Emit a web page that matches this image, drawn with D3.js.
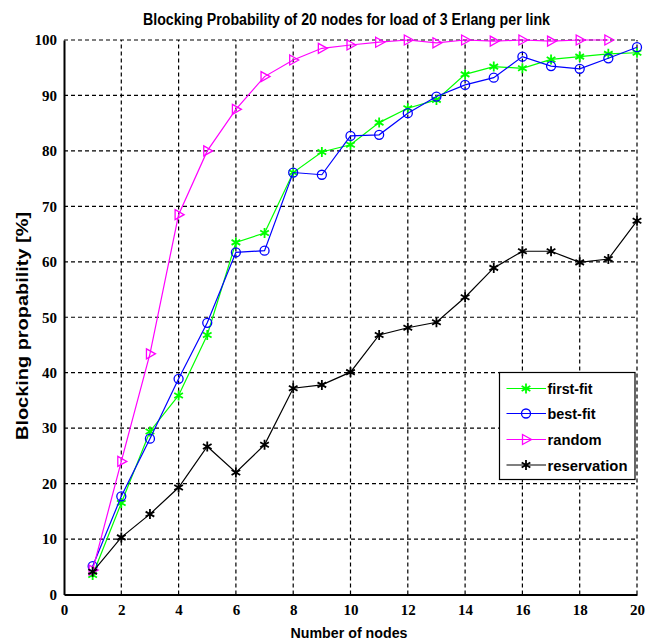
<!DOCTYPE html>
<html>
<head>
<meta charset="utf-8">
<script src="https://cdn.jsdelivr.net/npm/d3@7"></script>
<style>
  html, body { margin: 0; padding: 0; background: #fff; }
  svg { display: block; }
</style>
</head>
<body>
<script>
const nodes = [1,2,3,4,5,6,7,8,9,10,11,12,13,14,15,16,17,18,19,20];
const firstFit = [3.5,16.5,29.4,35.9,46.8,63.5,65.2,76.1,79.8,81.1,85.1,87.7,89.2,93.8,95.2,94.9,96.5,97.0,97.5,97.7];
const bestFit = [5.1,17.7,28.1,38.9,49.0,61.7,62.0,76.1,75.7,82.7,82.9,86.8,89.8,91.9,93.2,97.0,95.3,94.8,96.7,98.7];
const randomFit = [4.4,24.0,43.4,68.5,80.0,87.5,93.4,96.4,98.5,99.1,99.6,100,99.5,100,99.8,100,99.8,100,100];
const reservation = [4.1,10.3,14.5,19.3,26.7,22.0,27.0,37.2,37.8,40.1,46.8,48.1,49.1,53.6,58.9,61.9,61.9,59.9,60.5,67.4];
const xTicks = [0,2,4,6,8,10,12,14,16,18,20];
const yTicks = [0,10,20,30,40,50,60,70,80,90,100];
const seriesNames = ["first-fit","best-fit","random","reservation"];
const seriesColors = ["#00ff00","#0000ff","#ff00ff","#000000"];
const seriesMarkers = ["star","circle","triangle","star"];
const titleText = "Blocking Probability of 20 nodes for load of 3 Erlang per link";
const xLabelText = "Number of nodes";
const yLabelText = "Blocking propability [%]";

const W = 650, H = 640;
const svg = d3.select("body").append("svg").attr("width", W).attr("height", H);

const x = d3.scaleLinear().domain([0,20]).range([64,637]);
const y = d3.scaleLinear().domain([0,100]).range([594.5,40]);

const sans = "'Liberation Sans', Arial, sans-serif";
const serif = "'Liberation Serif', 'Times New Roman', serif";

// grid
const grid = svg.append("g");
grid.selectAll("line.gx").data(xTicks.filter(d => d > 0)).enter().append("line")
  .attr("x1", d => x(d)).attr("x2", d => x(d)).attr("y1", y(0)).attr("y2", y(100))
  .attr("stroke", "#000").attr("stroke-width", 1.2).attr("stroke-dasharray", "4,3");
grid.selectAll("line.gy").data(yTicks.filter(d => d > 0)).enter().append("line")
  .attr("x1", x(0)).attr("x2", x(20)).attr("y1", d => y(d)).attr("y2", d => y(d))
  .attr("stroke", "#000").attr("stroke-width", 1.2).attr("stroke-dasharray", "4,3");

// axes
const xAxis = svg.append("g").attr("transform", `translate(0,${y(0)})`)
  .call(d3.axisBottom(x).tickValues(xTicks).tickSize(0).tickPadding(9).tickFormat(d3.format("d")));
const yAxis = svg.append("g").attr("transform", `translate(${x(0)},0)`)
  .call(d3.axisLeft(y).tickValues(yTicks).tickSize(0).tickPadding(7).tickFormat(d3.format("d")));
[xAxis, yAxis].forEach(a => {
  a.select(".domain").attr("stroke", "#000").attr("stroke-width", 2);
  a.selectAll("text").attr("font-family", serif).attr("font-weight", "bold")
    .attr("font-size", 15).attr("fill", "#000");
});
xAxis.selectAll("text").attr("dy", "0.75em");

// markers
function drawMarker(g, type, cx, cy, color) {
  if (type === "circle") {
    g.append("circle").attr("cx", cx).attr("cy", cy).attr("r", 4.5)
      .attr("fill", "none").attr("stroke", color).attr("stroke-width", 1.3);
  } else if (type === "triangle") {
    const s = 5;
    g.append("path")
      .attr("d", `M${cx - s*0.7},${cy - s} L${cx + s*1.1},${cy} L${cx - s*0.7},${cy + s} Z`)
      .attr("fill", "none").attr("stroke", color).attr("stroke-width", 1.3);
  } else {
    const s = 5;
    const p = [];
    for (let k = 0; k < 3; k++) {
      const a = Math.PI / 2 + k * Math.PI / 3;
      p.push(`M${cx + s*Math.cos(a)},${cy - s*Math.sin(a)} L${cx - s*Math.cos(a)},${cy + s*Math.sin(a)}`);
    }
    g.append("path").attr("d", p.join(" ")).attr("stroke", color).attr("stroke-width", 1.8).attr("fill", "none");
  }
}

const allSeries = [firstFit, bestFit, randomFit, reservation];
const line = d3.line().x(d => x(d[0])).y(d => y(d[1]));
allSeries.forEach((vals, i) => {
  const pts = vals.map((v, j) => [nodes[j], v]);
  const g = svg.append("g");
  g.append("path").datum(pts).attr("d", line).attr("fill", "none")
    .attr("stroke", seriesColors[i]).attr("stroke-width", 1.2);
  pts.forEach(p => drawMarker(g, seriesMarkers[i], x(p[0]), y(p[1]), seriesColors[i]));
});

// helper to condense text
function condense(sel, factor) {
  sel.each(function() {
    const w = this.getComputedTextLength();
    d3.select(this).attr("textLength", w * factor).attr("lengthAdjust", "spacingAndGlyphs");
  });
}
function fitWidth(sel, width) {
  sel.attr("textLength", width).attr("lengthAdjust", "spacingAndGlyphs");
}

// title
svg.append("text").attr("x", 346.5).attr("y", 25).attr("text-anchor", "middle")
  .attr("font-family", sans).attr("font-weight", "bold").attr("font-size", 16)
  .text(titleText).call(fitWidth, 407);

// x label
svg.append("text").attr("x", 349).attr("y", 638).attr("text-anchor", "middle")
  .attr("font-family", sans).attr("font-weight", "bold").attr("font-size", 15)
  .text(xLabelText).call(fitWidth, 117);

// y label
svg.append("text").attr("transform", "translate(28,326) rotate(-90)").attr("text-anchor", "middle")
  .attr("font-family", sans).attr("font-weight", "bold").attr("font-size", 16)
  .text(yLabelText).call(fitWidth, 228);

// legend
const lg = svg.append("g");
lg.append("rect").attr("x", 499.5).attr("y", 372.5).attr("width", 135.5).attr("height", 107)
  .attr("fill", "#fff").attr("stroke", "#000").attr("stroke-width", 1.2);
const legendY = [388.5, 413.5, 439.5, 465];
const legendW = [45, 48, 54, 80];
seriesNames.forEach((name, i) => {
  const ly = legendY[i];
  lg.append("line").attr("x1", 506.5).attr("x2", 546).attr("y1", ly).attr("y2", ly)
    .attr("stroke", seriesColors[i]).attr("stroke-width", 1.2);
  drawMarker(lg, seriesMarkers[i], 526, ly, seriesColors[i]);
  lg.append("text").attr("x", 547.5).attr("y", ly + 5.5)
    .attr("font-family", sans).attr("font-weight", "bold").attr("font-size", 15)
    .text(name).call(fitWidth, legendW[i]);
});
</script>
</body>
</html>
